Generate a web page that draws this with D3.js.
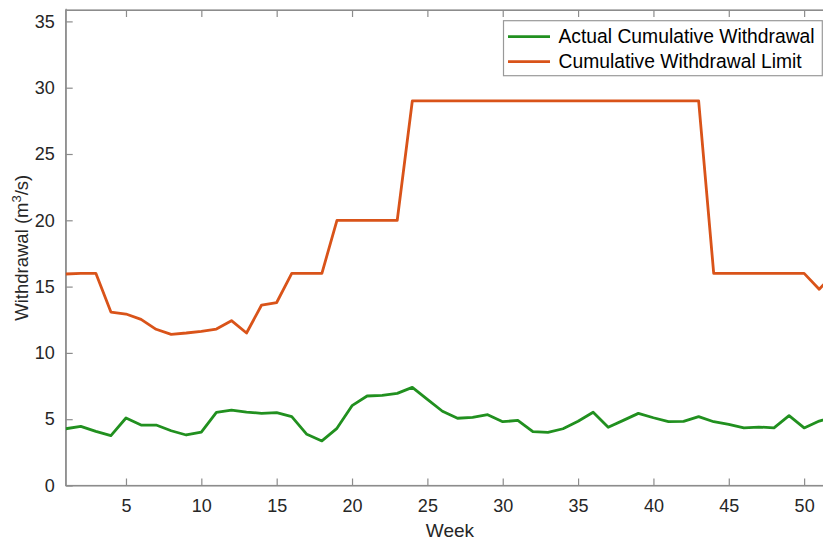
<!DOCTYPE html>
<html>
<head>
<meta charset="utf-8">
<script src="https://cdn.jsdelivr.net/npm/d3@7"></script>
<style>
  html, body { margin: 0; padding: 0; background: #fff; overflow: hidden; }
  svg { display: block; }
  text { font-family: "Liberation Sans", Arial, sans-serif; }
</style>
</head>
<body>
<svg id="chart" width="823" height="542"></svg>
<script>
// Weekly withdrawal data (m^3/s)
const weeks = d3.range(1, 53);
const actualWithdrawal = [
  4.28, 4.46, 4.08, 3.76, 5.09, 4.56, 4.56, 4.13, 3.81, 4.03,
  5.52, 5.69, 5.54, 5.44, 5.50, 5.19, 3.86, 3.36, 4.31, 6.02,
  6.75, 6.80, 6.95, 7.40, 6.50, 5.60, 5.07, 5.14, 5.34, 4.81,
  4.91, 4.06, 4.01, 4.28, 4.84, 5.52, 4.39, 4.91, 5.44, 5.11,
  4.81, 4.84, 5.19, 4.81, 4.61, 4.34, 4.41, 4.34, 5.27, 4.34,
  4.86, 5.20
];
const withdrawalLimit = [
  15.95, 16.0, 16.0, 13.08, 12.93, 12.53, 11.78, 11.4, 11.5, 11.63,
  11.8, 12.43, 11.5, 13.61, 13.8, 16.0, 16.0, 16.0, 20.0, 20.0,
  20.0, 20.0, 20.0, 29.0, 29.0, 29.0, 29.0, 29.0, 29.0, 29.0,
  29.0, 29.0, 29.0, 29.0, 29.0, 29.0, 29.0, 29.0, 29.0, 29.0,
  29.0, 29.0, 29.0, 16.0, 16.0, 16.0, 16.0, 16.0, 16.0, 16.0,
  14.8, 16.0
];
const xTicks = [5, 10, 15, 20, 25, 30, 35, 40, 45, 50];
const yTicks = [0, 5, 10, 15, 20, 25, 30, 35];
const seriesNames = ["Actual Cumulative Withdrawal", "Cumulative Withdrawal Limit"];
const seriesColors = ["#21901f", "#d95319"];

const svg = d3.select("#chart");
const plotLeft = 65.7, plotTop = 10, plotBottom = 485.5;
const x = d3.scaleLinear().domain([1, 52]).range([plotLeft, plotLeft + 51 * 15.07]);
const y = d3.scaleLinear().domain([0, 36]).range([plotBottom, plotBottom - 36 * 13.26]);
const plotRight = x(52);

const axisColor = "#8c8c8c";
const textColor = "#262626";
const tickLen = 7;
const tickFont = "18px";

// Axis frame
const g = svg.append("g");
g.append("rect")
  .attr("x", plotLeft).attr("y", plotTop)
  .attr("width", plotRight - plotLeft).attr("height", plotBottom - plotTop)
  .attr("fill", "none").attr("stroke", axisColor).attr("stroke-width", 1.2);

// Bottom axis
const xAxis = d3.axisBottom(x).tickValues(xTicks).tickSize(-tickLen).tickPadding(14).tickSizeOuter(0);
const gx = g.append("g").attr("transform", `translate(0,${plotBottom})`).call(xAxis);
// Top axis ticks
const gxt = g.append("g").attr("transform", `translate(0,${plotTop})`)
  .call(d3.axisTop(x).tickValues(xTicks).tickSize(-tickLen).tickFormat("").tickSizeOuter(0));
// Left axis
const yAxis = d3.axisLeft(y).tickValues(yTicks).tickSize(-tickLen).tickPadding(11).tickSizeOuter(0);
const gy = g.append("g").attr("transform", `translate(${plotLeft},0)`).call(yAxis);

[gx, gxt, gy].forEach(a => {
  a.select(".domain").attr("stroke", axisColor).attr("stroke-width", 1.2);
  a.selectAll(".tick line").attr("stroke", axisColor).attr("stroke-width", 1.2);
  a.selectAll(".tick text").attr("fill", textColor)
    .style("font-size", tickFont).style("font-family", '"Liberation Sans", Arial, sans-serif');
});

// Data lines
const clipId = "plotclip";
svg.append("clipPath").attr("id", clipId).append("rect")
  .attr("x", plotLeft).attr("y", plotTop).attr("width", plotRight - plotLeft).attr("height", plotBottom - plotTop);

const line = d3.line().x((d, i) => x(weeks[i])).y(d => y(d));
const plot = svg.append("g").attr("clip-path", `url(#${clipId})`);
[actualWithdrawal, withdrawalLimit].forEach((s, i) => {
  plot.append("path").datum(s)
    .attr("d", line)
    .attr("fill", "none")
    .attr("stroke", seriesColors[i])
    .attr("stroke-width", 2.8)
    .attr("stroke-linejoin", "round");
});

// Axis labels
svg.append("text")
  .attr("x", (plotLeft + plotRight) / 2).attr("y", 537)
  .attr("text-anchor", "middle").attr("fill", textColor)
  .style("font-size", "19px").text("Week");

const yl = svg.append("text")
  .attr("transform", `translate(28,${(plotTop + plotBottom) / 2}) rotate(-90)`)
  .attr("text-anchor", "middle").attr("fill", textColor)
  .style("font-size", "18.5px");
yl.append("tspan").text("Withdrawal (m");
yl.append("tspan").attr("dy", -7).style("font-size", "13px").text("3");
yl.append("tspan").attr("dy", 7).text("/s)");

// Legend
const lg = svg.append("g");
lg.append("rect")
  .attr("x", 503.5).attr("y", 20.7).attr("width", 318.8).attr("height", 55)
  .attr("fill", "#fff").attr("stroke", "#999").attr("stroke-width", 1.2);
seriesNames.forEach((name, i) => {
  const cy = 36.7 + i * 25;
  lg.append("line")
    .attr("x1", 508).attr("x2", 550).attr("y1", cy).attr("y2", cy)
    .attr("stroke", seriesColors[i]).attr("stroke-width", 2.8);
  lg.append("text")
    .attr("x", 558.5).attr("y", cy).attr("dy", "0.35em")
    .attr("fill", "#000").style("font-size", "19.3px").text(name);
});
</script>
</body>
</html>
